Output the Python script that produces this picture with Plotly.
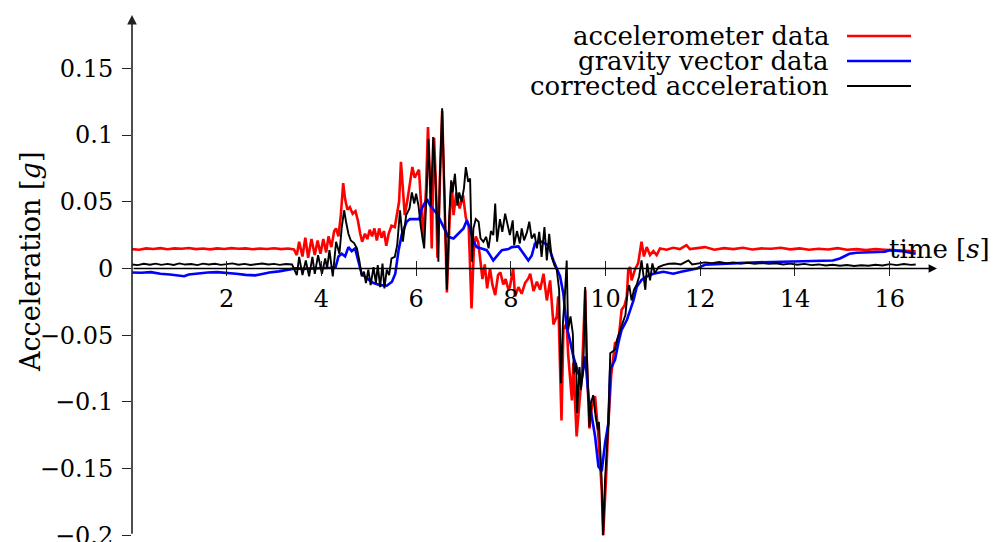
import plotly.graph_objects as go

# ---------------------------------------------------------------------------
# Series (time in seconds, acceleration in g)
# ---------------------------------------------------------------------------
t_accel = [
    0.00, 0.15, 0.30, 0.45, 0.60, 0.75, 0.90, 1.05, 1.20, 1.35, 1.50, 1.65,
    1.80, 1.95, 2.10, 2.25, 2.40, 2.55, 2.70, 2.85, 3.00, 3.15, 3.30, 3.42,
    3.48, 3.53, 3.60, 3.66, 3.72, 3.79, 3.86, 3.92, 3.98, 4.04, 4.10, 4.15,
    4.21, 4.27, 4.31, 4.36, 4.41, 4.46, 4.50, 4.55, 4.60, 4.66, 4.72, 4.77,
    4.82, 4.86, 4.92, 4.97, 5.02, 5.07, 5.12, 5.17, 5.22, 5.27, 5.32, 5.37,
    5.42, 5.48, 5.55, 5.60, 5.64, 5.68, 5.72, 5.76, 5.82, 5.88, 5.92, 5.97,
    6.02, 6.06, 6.11, 6.15, 6.21, 6.25, 6.30, 6.33, 6.38, 6.42, 6.45, 6.50,
    6.55, 6.60, 6.65, 6.70, 6.75, 6.79, 6.85, 6.92, 6.99, 7.05, 7.11, 7.17,
    7.22, 7.26, 7.31, 7.36, 7.40, 7.45, 7.50, 7.56, 7.61, 7.67, 7.73, 7.78,
    7.84, 7.89, 7.95, 7.98, 8.05, 8.09, 8.16, 8.23, 8.30, 8.37, 8.41, 8.48,
    8.55, 8.62, 8.69, 8.76, 8.83, 8.90, 8.97, 9.00, 9.07, 9.11, 9.18, 9.21,
    9.29, 9.32, 9.39, 9.46, 9.50, 9.57, 9.60, 9.66, 9.71, 9.78, 9.85, 9.92,
    9.95, 10.01, 10.06, 10.12, 10.17, 10.20, 10.27, 10.34, 10.40, 10.45,
    10.48, 10.52, 10.55, 10.62, 10.69, 10.76, 10.81, 10.87, 10.94, 11.01,
    11.08, 11.15, 11.29, 11.43, 11.57, 11.71, 11.78, 11.92, 12.10, 12.30,
    12.50, 12.70, 12.90, 13.10, 13.30, 13.50, 13.70, 13.90, 14.10, 14.30,
    14.50, 14.70, 14.90, 15.10, 15.30, 15.50, 15.70, 15.90, 16.10, 16.30,
    16.55,
]
accel = [
    0.0145, 0.0140, 0.0150, 0.0146, 0.0152, 0.0144, 0.0150, 0.0147, 0.0153,
    0.0145, 0.0149, 0.0143, 0.0150, 0.0146, 0.0152, 0.0147, 0.0150, 0.0144,
    0.0149, 0.0146, 0.0151, 0.0145, 0.0149, 0.0143,
    0.010, 0.020, 0.009, 0.023, 0.008, 0.022, 0.010, 0.021, 0.011, 0.022,
    0.012, 0.024, 0.016, 0.028, 0.030, 0.024, 0.040, 0.064, 0.052, 0.044,
    0.046, 0.041, 0.043, 0.036, 0.026, 0.020, 0.026, 0.022, 0.029, 0.024,
    0.030, 0.021, 0.030, 0.023, 0.028, 0.017, 0.026, 0.032, 0.031, 0.040,
    0.050, 0.080, 0.060, 0.040, 0.052, 0.066, 0.076, 0.068, 0.072, 0.074,
    0.045, 0.020, 0.060, 0.106, 0.060, 0.015, 0.098, 0.060, 0.008, 0.070,
    0.118, 0.050, -0.018, 0.030, 0.065, 0.040, 0.057, 0.045, 0.055, 0.038,
    0.032, -0.030, 0.015, 0.024, 0.020, 0.005, -0.008, 0.003, -0.015, 0.000,
    -0.012, -0.020, -0.005, -0.003, -0.012, -0.008, -0.016, -0.014, 0.000,
    -0.021, -0.014, -0.019, -0.011, -0.0075, -0.004, -0.017, -0.010, -0.016,
    -0.004, -0.024, -0.009, -0.042, -0.036, -0.021, -0.114, -0.046, -0.041,
    -0.064, -0.099, -0.071, -0.126, -0.096, -0.081, -0.016, -0.066, -0.120,
    -0.104, -0.096, -0.126, -0.166, -0.200, -0.158, -0.116, -0.080, -0.066,
    -0.056, -0.055, -0.031, -0.028, -0.021, -0.001, 0.001, -0.009, -0.001,
    0.004, 0.020, 0.009, 0.016, 0.010, 0.013, 0.010, 0.015, 0.014, 0.0155,
    0.0145, 0.0175, 0.0145, 0.0150, 0.0160, 0.0140, 0.0152, 0.0145, 0.0155,
    0.0142, 0.0150, 0.0147, 0.0155, 0.0143, 0.0150, 0.0140, 0.0148, 0.0142,
    0.0152, 0.0140, 0.0145, 0.0138, 0.0145, 0.0140, 0.0135, 0.0130, 0.0128,
]

t_gravity = [
    0.00, 0.20, 0.40, 0.60, 0.80, 1.00, 1.10, 1.20, 1.40, 1.60, 1.80, 2.00,
    2.20, 2.40, 2.60, 2.70, 2.90, 3.10, 3.30, 3.45, 3.60, 3.80, 4.00, 4.20,
    4.30, 4.36, 4.43, 4.50, 4.57, 4.64, 4.71, 4.78, 4.85, 4.96, 5.10, 5.24,
    5.38, 5.49, 5.56, 5.63, 5.70, 5.80, 5.87, 5.97, 6.07, 6.12, 6.23, 6.30,
    6.37, 6.44, 6.51, 6.58, 6.68, 6.79, 6.89, 7.00, 7.07, 7.14, 7.21, 7.28,
    7.38, 7.49, 7.56, 7.63, 7.70, 7.81, 7.95, 8.02, 8.16, 8.26, 8.37, 8.44,
    8.51, 8.65, 8.79, 8.90, 8.97, 9.04, 9.11, 9.18, 9.25, 9.32, 9.43, 9.50,
    9.57, 9.64, 9.71, 9.78, 9.85, 9.92, 9.99, 10.06, 10.10, 10.20, 10.27,
    10.34, 10.45, 10.52, 10.59, 10.66, 10.76, 10.87, 11.01, 11.22, 11.43,
    11.60, 11.79, 11.93, 12.10, 12.30, 12.50, 12.80, 13.10, 13.40, 13.70,
    14.00, 14.30, 14.60, 14.80, 14.95, 15.15, 15.30, 15.60, 15.90, 16.00,
    16.25, 16.55,
]
gravity = [
    -0.0030, -0.0032, -0.0028, -0.0040, -0.0045, -0.0052, -0.0058, -0.0045,
    -0.0035, -0.0030, -0.0028, -0.0032, -0.0040, -0.0048, -0.0052, -0.0045,
    -0.0030, -0.0022, -0.0010, 0.0000, -0.0003, 0.0000, -0.0002, 0.0005,
    0.0010, 0.009, 0.011, 0.009, 0.016, 0.013, 0.015, 0.006, -0.004, -0.0075,
    -0.011, -0.0125, -0.013, -0.010, -0.004, 0.0137, 0.026, 0.035, 0.037,
    0.037, 0.037, 0.045, 0.052, 0.047, 0.0436, 0.041, 0.036, 0.031, 0.0237,
    0.0225, 0.026, 0.030, 0.036, 0.030, 0.020, 0.016, 0.015, 0.0137, 0.010,
    0.0060, 0.0090, 0.0137, 0.0145, 0.016, 0.0165, 0.011, 0.006, 0.0095,
    0.0187, 0.020, 0.0175, 0.006, 0.000, -0.006, -0.019, -0.044, -0.054,
    -0.066, -0.079, -0.082, -0.066, -0.096, -0.111, -0.126, -0.1485, -0.152,
    -0.131, -0.116, -0.076, -0.0686, -0.056, -0.046, -0.0387, -0.031, -0.024,
    -0.0137, -0.0087, -0.006, -0.004, -0.0025, -0.004, -0.0025, -0.0013,
    0.000, 0.0028, 0.0033, 0.0037, 0.0040, 0.0045, 0.0047, 0.0050, 0.0050,
    0.0052, 0.0055, 0.0060, 0.0075, 0.0110, 0.0118, 0.0120, 0.0125, 0.0137,
    0.0130, 0.0110,
]

t_corrected = [
    0.00, 0.12, 0.25, 0.38, 0.50, 0.62, 0.75, 0.88, 1.00, 1.12, 1.25, 1.38,
    1.50, 1.62, 1.75, 1.88, 2.00, 2.12, 2.25, 2.38, 2.50, 2.62, 2.75, 2.88,
    3.00, 3.12, 3.25, 3.38, 3.48, 3.53, 3.60, 3.67, 3.74, 3.81, 3.86, 3.93,
    4.01, 4.08, 4.12, 4.17, 4.24, 4.31, 4.38, 4.43, 4.48, 4.52, 4.57, 4.62,
    4.69, 4.75, 4.80, 4.85, 4.90, 4.94, 4.99, 5.04, 5.10, 5.15, 5.19, 5.24,
    5.29, 5.33, 5.38, 5.43, 5.48, 5.55, 5.60, 5.66, 5.72, 5.79, 5.86, 5.91,
    5.96, 6.00, 6.05, 6.10, 6.17, 6.22, 6.26, 6.31, 6.36, 6.41, 6.47, 6.50,
    6.55, 6.60, 6.65, 6.70, 6.74, 6.77, 6.82, 6.87, 6.91, 6.96, 7.01, 7.05,
    7.10, 7.14, 7.18, 7.21, 7.26, 7.32, 7.36, 7.42, 7.48, 7.53, 7.58, 7.63,
    7.67, 7.71, 7.77, 7.82, 7.88, 7.93, 7.98, 8.04, 8.07, 8.13, 8.19, 8.23,
    8.28, 8.34, 8.39, 8.44, 8.50, 8.55, 8.60, 8.65, 8.71, 8.76, 8.81, 8.86,
    8.92, 8.97, 9.02, 9.06, 9.10, 9.14, 9.18, 9.21, 9.26, 9.31, 9.33, 9.38,
    9.40, 9.45, 9.48, 9.53, 9.57, 9.60, 9.66, 9.69, 9.74, 9.79, 9.84, 9.86,
    9.91, 9.95, 9.99, 10.06, 10.10, 10.20, 10.24, 10.31, 10.38, 10.42, 10.47,
    10.50, 10.55, 10.60, 10.66, 10.71, 10.76, 10.80, 10.84, 10.88, 10.94,
    10.99, 11.04, 11.12, 11.22, 11.34, 11.47, 11.59, 11.75, 11.83, 11.93,
    12.10, 12.25, 12.40, 12.55, 12.70, 12.85, 13.00, 13.15, 13.30, 13.45,
    13.60, 13.75, 13.90, 14.05, 14.20, 14.35, 14.50, 14.65, 14.80, 14.95,
    15.10, 15.25, 15.40, 15.55, 15.70, 15.85, 16.00, 16.15, 16.30, 16.45,
    16.55,
]
corrected = [
    0.0030, 0.0025, 0.0035, 0.0028, 0.0036, 0.0027, 0.0034, 0.0026, 0.0038,
    0.0029, 0.0033, 0.0025, 0.0036, 0.0030, 0.0035, 0.0027, 0.0032, 0.0038,
    0.0028, 0.0034, 0.0026, 0.0033, 0.0037, 0.0029, 0.0034, 0.0027, 0.0033,
    0.0030, -0.005, 0.0087, -0.005, 0.006, -0.006, 0.0087, -0.004, 0.010,
    -0.004, 0.0075, 0.000, 0.0137, -0.006, 0.020, 0.011, 0.031, 0.0436,
    0.035, 0.026, 0.021, 0.019, 0.015, 0.006, -0.006, -0.0025, -0.011,
    -0.001, -0.0125, 0.001, -0.011, 0.0025, -0.014, 0.0037, -0.015, -0.001,
    -0.005, 0.0075, 0.0087, 0.0175, 0.0436, 0.020, 0.040, 0.045, 0.057,
    0.0487, 0.056, 0.047, 0.031, 0.015, 0.055, 0.097, 0.047, 0.0985, 0.067,
    0.005, 0.067, 0.120, 0.055, -0.016, 0.040, 0.066, 0.057, 0.071, 0.047,
    0.057, 0.050, 0.060, 0.076, 0.065, 0.0675, 0.005, 0.030, 0.037, 0.035,
    0.0225, 0.020, 0.0237, 0.015, 0.028, 0.025, 0.0487, 0.020, 0.037, 0.0274,
    0.041, 0.033, 0.025, 0.036, 0.0175, 0.028, 0.0187, 0.030, 0.021, 0.027,
    0.035, 0.0225, 0.026, 0.015, 0.0274, 0.0087, 0.031, 0.006, 0.026, 0.009,
    0.0025, -0.001, -0.016, -0.086, -0.041, -0.021, 0.006, -0.046, -0.036,
    -0.049, -0.079, -0.071, -0.1085, -0.074, -0.091, -0.076, -0.014, -0.059,
    -0.1186, -0.101, -0.095, -0.111, -0.121, -0.115, -0.151, -0.200, -0.158,
    -0.116, -0.0636, -0.061, -0.0537, -0.046, -0.0387, -0.035, -0.016,
    -0.0125, -0.024, -0.016, -0.012, -0.006, 0.006, -0.006, -0.016, 0.0037,
    -0.009, 0.0037, -0.0037, 0.001, 0.0025, 0.0035, 0.0037, 0.0030, 0.0060,
    0.0030, 0.0035, 0.0045, 0.0040, 0.0048, 0.0040, 0.0045, 0.0036, 0.0042,
    0.0035, 0.0040, 0.0034, 0.0039, 0.0030, 0.0036, 0.0028, 0.0034, 0.0025,
    0.0030, 0.0022, 0.0028, 0.0020, 0.0026, 0.0018, 0.0024, 0.0020, 0.0027,
    0.0022, 0.0032, 0.0025, 0.0033, 0.0027, 0.0030,
]

series_names = ["accelerometer data", "gravity vector data", "corrected acceleration"]
series_colors = ["#ff0000", "#0000ff", "#000000"]
series_widths = [2.6, 2.6, 1.9]

x_ticks = [2, 4, 6, 8, 10, 12, 14, 16]
y_ticks = [0.15, 0.1, 0.05, 0, -0.05, -0.1, -0.15, -0.2]
y_tick_text = ["0.15", "0.1", "0.05", "0", "\u22120.05", "\u22120.1", "\u22120.15", "\u22120.2"]

X_RANGE = [0, 17]
Y_RANGE = [-0.2006, 0.19]
Y_AXIS_BOTTOM = -0.2

# ---------------------------------------------------------------------------
# Layout geometry (pixels)
# ---------------------------------------------------------------------------
W, H = 994, 542
M_L, M_R, M_T, M_B = 132, 57, 15, 6
PLOT_W = W - M_L - M_R
PLOT_H = H - M_T - M_B
FONT = "DejaVu Serif"
FS = 24
FS_TEXT = 26
AX_COLOR = "#222222"


def paper_x(px):
    return (px - M_L) / PLOT_W


def paper_y(py):
    return (H - M_B - py) / PLOT_H


x_axis_pos = (0 - Y_RANGE[0]) / (Y_RANGE[1] - Y_RANGE[0])

fig = go.Figure()
for i, (tx, ys) in enumerate([(t_accel, accel), (t_gravity, gravity), (t_corrected, corrected)]):
    fig.add_trace(go.Scatter(
        x=tx, y=ys, mode="lines", name=series_names[i],
        line=dict(color=series_colors[i], width=series_widths[i]),
        xaxis="x2" if i == 2 else "x",
        showlegend=False, hoverinfo="skip",
    ))

axis_common = dict(range=X_RANGE, showgrid=False, zeroline=False, showline=False,
                   tickvals=x_ticks, tickcolor=AX_COLOR, tickwidth=1.2, ticklen=7,
                   anchor="free", position=x_axis_pos, automargin=False)

fig.update_layout(
    width=W, height=H,
    margin=dict(l=M_L, r=M_R, t=M_T, b=M_B, pad=0),
    paper_bgcolor="white", plot_bgcolor="white",
    font=dict(family=FONT, size=FS, color="black"),
    xaxis=dict(**axis_common, ticks="outside",
               tickfont=dict(family=FONT, size=FS, color="black"),
               ticklabelstandoff=2),
    xaxis2=dict(**axis_common, ticks="inside", showticklabels=False,
                overlaying="x", matches="x"),
    yaxis=dict(range=Y_RANGE, showgrid=False, zeroline=False, showline=False,
               tickvals=y_ticks, ticktext=y_tick_text, ticks="outside",
               ticklen=9, tickwidth=1.2, tickcolor=AX_COLOR,
               tickfont=dict(family=FONT, size=FS, color="black"),
               ticklabelstandoff=4, ticklabeloverflow="allow", automargin=False),
)

# axis lines with arrow heads
fig.add_annotation(x=X_RANGE[1], y=0, ax=X_RANGE[0], ay=0, xref="x", yref="y",
                   axref="x", ayref="y", text="", showarrow=True, arrowhead=2,
                   arrowsize=1.2, arrowwidth=1.4, arrowcolor="black")
fig.add_annotation(x=0, y=Y_RANGE[1], ax=0, ay=Y_AXIS_BOTTOM, xref="x", yref="y",
                   axref="x", ayref="y", text="", showarrow=True, arrowhead=2,
                   arrowsize=1.2, arrowwidth=1.6, arrowcolor=AX_COLOR)

# axis titles
fig.add_annotation(x=15.95, y=0, xref="x", yref="y", text="time [<i>s</i>]",
                   showarrow=False, xanchor="left", yanchor="bottom", yshift=2,
                   font=dict(family=FONT, size=FS_TEXT, color="black"))
fig.add_annotation(x=paper_x(30), y=paper_y(262), xref="paper", yref="paper",
                   text="Acceleration [<i>g</i>]", textangle=-90, showarrow=False,
                   xanchor="center", yanchor="middle",
                   font=dict(family=FONT, size=27, color="black"))

# legend: right-aligned labels followed by line samples
legend_rows_py = [36, 61, 86]
for name, color, width, py in zip(series_names, series_colors, series_widths, legend_rows_py):
    fig.add_annotation(x=paper_x(831), y=paper_y(py), xref="paper", yref="paper",
                       text=name, showarrow=False, xanchor="right", yanchor="middle",
                       font=dict(family=FONT, size=FS_TEXT, color="black"))
    fig.add_shape(type="line", xref="paper", yref="paper",
                  x0=paper_x(847), x1=paper_x(911), y0=paper_y(py), y1=paper_y(py),
                  line=dict(color=color, width=width))

fig.write_html("out.html")
